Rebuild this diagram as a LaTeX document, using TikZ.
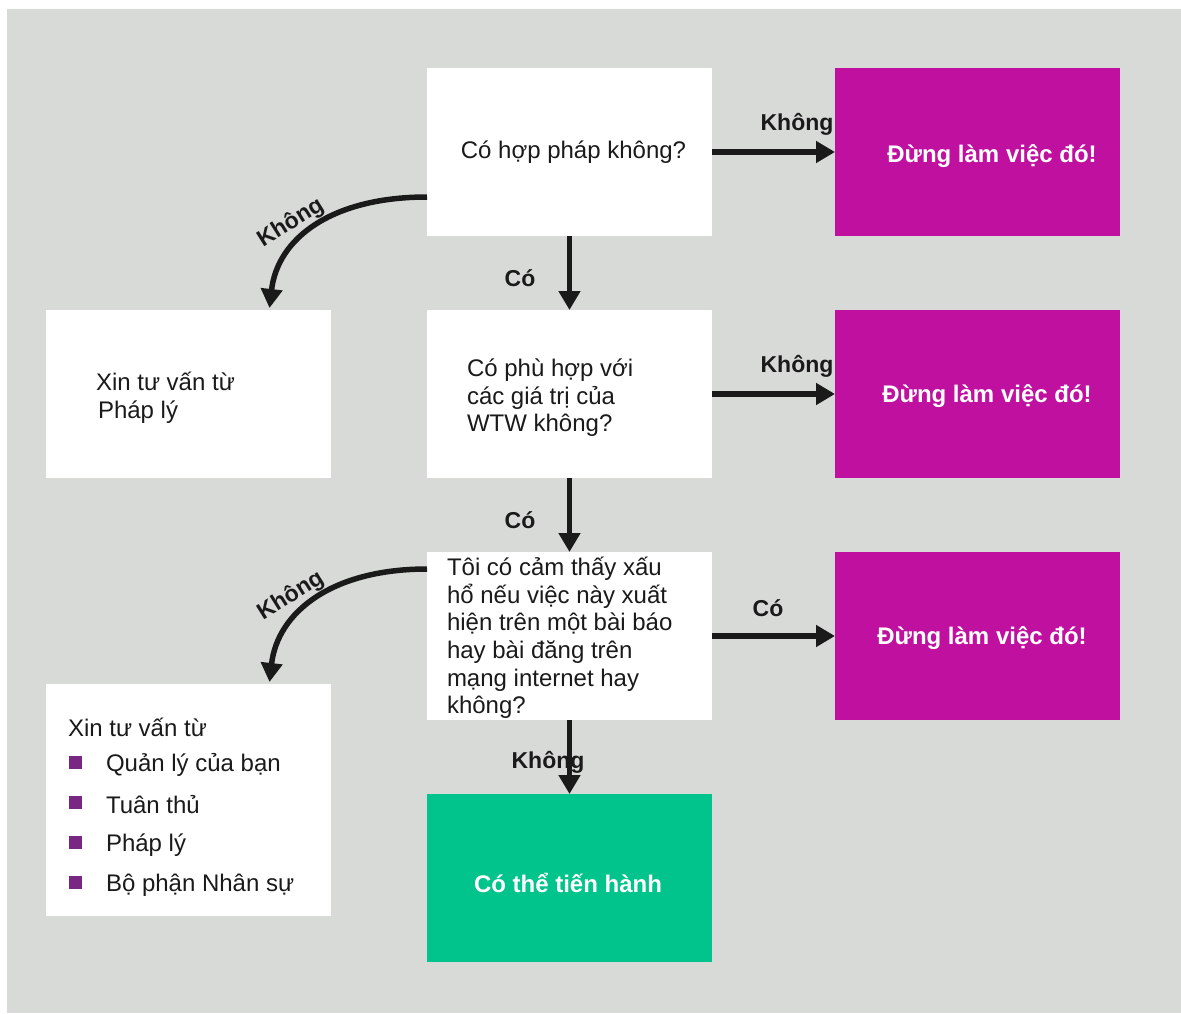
\documentclass[tikz,border=0pt]{standalone}
\usepackage{fontspec}
\setmainfont{Liberation Sans}
\usetikzlibrary{arrows.meta}
\definecolor{bg}{RGB}{216,218,216}
\definecolor{mag}{RGB}{192,16,160}
\definecolor{grn}{RGB}{0,196,140}
\definecolor{bul}{RGB}{122,38,132}
\definecolor{ink}{RGB}{26,26,26}
\begin{document}
\begin{tikzpicture}[x=1pt,y=-1pt,
  box/.style={fill=white,draw=none,minimum width=285pt,minimum height=168pt,inner sep=0pt,outer sep=0pt,anchor=north west},
  magbox/.style={box,fill=mag},
  grnbox/.style={box,fill=grn},
  txt/.style={inner sep=0pt,outer sep=0pt,align=left,text=ink,font=\fontsize{24}{27.6}\selectfont},
  wtxt/.style={inner sep=0pt,text=white,font=\fontsize{24}{27.6}\selectfont\bfseries},
  lab/.style={inner sep=0pt,text=ink,font=\fontsize{23}{26}\selectfont\bfseries},
  conn/.style={line width=5.5pt,draw=ink,-{Triangle[length=19pt,width=21pt]}},
  bullet/.style={fill=bul,draw=none,minimum size=13pt,inner sep=0pt}
]
\useasboundingbox (0,0) rectangle (1181,1013);
\fill[bg] (7,9) rectangle (1181,1013);

% boxes
\node[box] (b1) at (427,68) {};
\node[box] (b2) at (427,310) {};
\node[box] (b3) at (427,552) {};
\node[magbox] (m1) at (835,68) {};
\node[magbox] (m2) at (835,310) {};
\node[magbox] (m3) at (835,552) {};
\node[box] (l1) at (46,310) {};
\node[box,minimum height=232pt] (l2) at (46,684) {};
\node[grnbox] (g) at (427,794) {};

% texts in boxes
\node[txt] (t1) at (573.5,152) {Có hợp pháp không?};
\node[txt,anchor=west] (t2) at (467,398) {Có phù hợp với\\các giá trị của\\WTW không?};
\node[txt,anchor=west] (t3) at (447,638) {Tôi có cảm thấy xấu\\hổ nếu việc này xuất\\hiện trên một bài báo\\hay bài đăng trên\\mạng internet hay\\không?};
\node[txt,anchor=west] (tl1) at (96,398) {Xin tư vấn từ\\\hspace*{2pt}Pháp lý};
\node[txt,anchor=west] (tl2) at (68,727) {Xin tư vấn từ};
\node[bullet] (q1) at (75,762) {};
\node[bullet] (q2) at (75,802) {};
\node[bullet] (q3) at (75,842) {};
\node[bullet] (q4) at (75,882) {};
\node[txt,anchor=west] (s1) at (106,765) {Quản lý của bạn};
\node[txt,anchor=west] (s2) at (106,805) {Tuân thủ};
\node[txt,anchor=west] (s3) at (106,845) {Pháp lý};
\node[txt,anchor=west] (s4) at (106,885) {Bộ phận Nhân sự};
\node[wtxt] (tm1) at (992,156) {Đừng làm việc đó!};
\node[wtxt] (tm2) at (987,396) {Đừng làm việc đó!};
\node[wtxt] (tm3) at (982,638) {Đừng làm việc đó!};
\node[wtxt] (tg) at (568,883) {Có thể tiến hành};

% labels
\node[lab] (k1) at (797,124) {Không};
\node[lab] (k2) at (797,366) {Không};
\node[lab] (c3) at (768,608) {Có};
\node[lab] (c1) at (520,278) {Có};
\node[lab] (c2) at (520,520) {Có};
\node[lab] (k3) at (548,762) {Không};
\node[lab,rotate=32] (k4) at (291,223) {Không};
\node[lab,rotate=32] (k5) at (291,596) {Không};

% connectors
\draw[conn] (b1.east) -- (m1.west);
\draw[conn] (b2.east) -- (m2.west);
\draw[conn] (b3.east) -- (m3.west);
\draw[conn] (b1.south) -- (b2.north);
\draw[conn] (b2.south) -- (b3.north);
\draw[conn] (b3.south) -- (g.north);
\draw[conn] ([yshift=-45pt]b1.west) .. controls +(-95,0) and +(8,-70) .. ([xshift=81pt,yshift=2pt]l1.north);
\draw[conn] ([yshift=67pt]b3.west) .. controls +(-95,0) and +(8,-70) .. ([xshift=81pt,yshift=2pt]l2.north);
\end{tikzpicture}
\end{document}
